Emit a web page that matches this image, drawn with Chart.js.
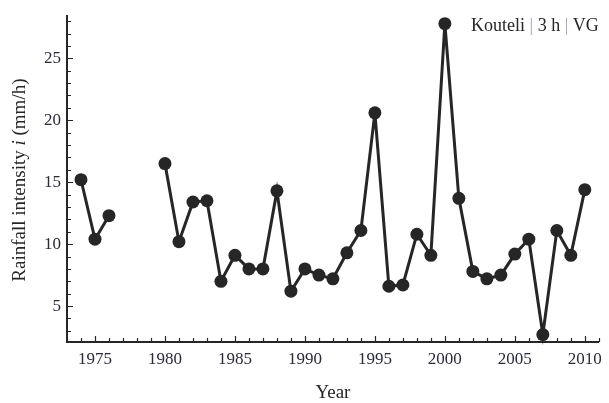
<!DOCTYPE html>
<html>
<head>
<meta charset="utf-8">
<script src="https://cdn.jsdelivr.net/npm/chart.js@4"></script>
<style>
  html, body { margin: 0; padding: 0; background: #fff; }
  #wrap { width: 609px; height: 403px; }
</style>
</head>
<body>
<div id="wrap"><canvas id="chart" width="609" height="403"></canvas></div>
<script>
// dados (1977-1979 sem registro)
const years = [1974, 1975, 1976, 1977, 1978, 1979, 1980, 1981, 1982, 1983, 1984, 1985,
    1986, 1987, 1988, 1989, 1990, 1991, 1992, 1993, 1994, 1995, 1996, 1997, 1998,
    1999, 2000, 2001, 2002, 2003, 2004, 2005, 2006, 2007, 2008, 2009, 2010];
const intensity = [15.2, 10.4, 12.3, null, null, null, 16.5, 10.2, 13.4, 13.5, 7.0, 9.1,
    8.0, 8.0, 14.3, 6.2, 8.0, 7.5, 7.2, 9.3, 11.1, 20.6, 6.6, 6.7, 10.8,
    9.1, 27.8, 13.7, 7.8, 7.2, 7.5, 9.2, 10.4, 2.7, 11.1, 9.1, 14.4];
const xTicks = [1975, 1980, 1985, 1990, 1995, 2000, 2005, 2010];
const yTicks = [5, 10, 15, 20, 25];
const legendLabel = ['Kouteli', '3 h', 'VG'];

const ink = '#262626';
const serif = '"Liberation Serif", "DejaVu Serif", serif';

// ticks para dentro, estilo Mathematica (maior a cada 5, menor a cada 1)
const innerTicks = {
    id: 'innerTicks',
    afterDraw(chart) {
        const { ctx, scales: { x, y } } = chart;
        ctx.save();
        ctx.strokeStyle = ink;
        ctx.lineWidth = 1.2;
        ctx.beginPath();
        for (let v = Math.ceil(x.min); v <= x.max; v++) {
            const px = Math.round(x.getPixelForValue(v)) + 0.5;
            const len = v % 5 === 0 ? 6 : 4;
            ctx.moveTo(px, x.top);
            ctx.lineTo(px, x.top - len);
        }
        for (let v = Math.ceil(y.min); v <= y.max; v++) {
            const py = Math.round(y.getPixelForValue(v)) + 0.5;
            const len = v % 5 === 0 ? 6 : 4;
            ctx.moveTo(y.right, py);
            ctx.lineTo(y.right + len, py);
        }
        ctx.stroke();

        // título do eixo y com "i" em itálico
        const parts = [['Rainfall intensity ', 'normal'], ['i', 'italic'], [' (mm/h)', 'normal']];
        ctx.fillStyle = ink;
        ctx.textBaseline = 'middle';
        let total = 0;
        parts.forEach(p => { ctx.font = `${p[1]} 19px ${serif}`; total += ctx.measureText(p[0]).width; });
        ctx.translate(20, (y.top + y.bottom) / 2 + 1);
        ctx.rotate(-Math.PI / 2);
        let cx = -total / 2;
        parts.forEach(p => {
            ctx.font = `${p[1]} 19px ${serif}`;
            ctx.fillText(p[0], cx, 0);
            cx += ctx.measureText(p[0]).width;
        });
        ctx.restore();

        // rótulo no canto superior direito
        ctx.save();
        ctx.font = `18px ${serif}`;
        ctx.textBaseline = 'alphabetic';
        const pieces = [];
        legendLabel.forEach((t, i) => {
            if (i > 0) pieces.push([' | ', '#9aa3b5']);
            pieces.push([t, ink]);
        });
        let w = 0;
        pieces.forEach(p => { w += ctx.measureText(p[0]).width; });
        let lx = chart.chartArea.right - w;
        pieces.forEach(p => {
            ctx.fillStyle = p[1];
            ctx.fillText(p[0], lx, 31);
            lx += ctx.measureText(p[0]).width;
        });
        ctx.restore();
    }
};

new Chart(document.getElementById('chart'), {
    type: 'line',
    data: {
        datasets: [{
            data: years.map((yr, i) => ({ x: yr, y: intensity[i] })),
            borderColor: ink,
            backgroundColor: ink,
            borderWidth: 3,
            pointRadius: 6.5,
            pointHoverRadius: 6.5,
            pointBorderWidth: 0,
            spanGaps: false,
            tension: 0,
            clip: false
        }]
    },
    options: {
        responsive: false,
        animation: false,
        events: [],
        layout: { padding: { top: 16, right: 7, left: 0, bottom: 0 } },
        plugins: { legend: { display: false }, tooltip: { enabled: false } },
        scales: {
            x: {
                type: 'linear',
                min: 1973,
                max: 2011,
                afterBuildTicks: (s) => { s.ticks = xTicks.map(v => ({ value: v })); },
                afterFit: (s) => { s.height = 61; },
                grid: { display: false, drawTicks: false },
                border: { display: true, color: ink, width: 2 },
                ticks: {
                    padding: 7,
                    color: '#2a2a3a',
                    font: { family: serif, size: 17 },
                    callback: (v) => String(v)
                },
                title: {
                    display: true,
                    text: 'Year',
                    color: ink,
                    font: { family: serif, size: 19 },
                    padding: { top: 4, bottom: -1 }
                }
            },
            y: {
                type: 'linear',
                min: 2.1,
                max: 28.4,
                afterBuildTicks: (s) => { s.ticks = yTicks.map(v => ({ value: v })); },
                afterFit: (s) => { s.width = 67; },
                grid: { display: false, drawTicks: false },
                border: { display: true, color: ink, width: 2 },
                ticks: {
                    padding: 6,
                    color: '#2a2a3a',
                    font: { family: serif, size: 17 }
                }
            }
        }
    },
    plugins: [innerTicks]
});
</script>
</body>
</html>
